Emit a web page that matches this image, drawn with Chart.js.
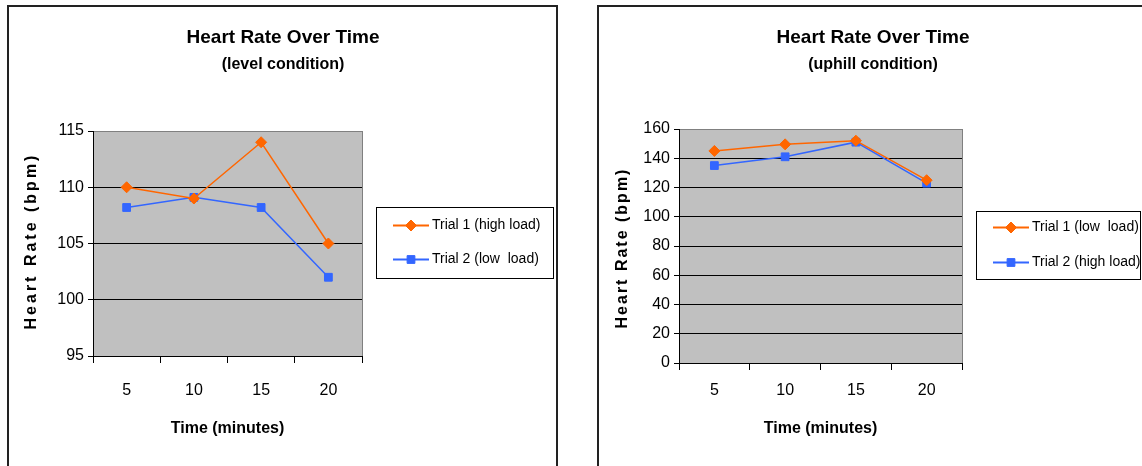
<!DOCTYPE html>
<html>
<head>
<meta charset="utf-8">
<script src="https://cdn.jsdelivr.net/npm/chart.js@4.4.1/dist/chart.umd.min.js"></script>
<style>
  html, body { margin: 0; padding: 0; background: #fff; overflow: hidden; }
  body { width: 1142px; height: 466px; position: relative; }
  .frame { position: absolute; border: 2px solid #222; box-sizing: border-box; }
  canvas { position: absolute; top: 0; }
</style>
</head>
<body>
<div class="frame" style="left:7px;top:5px;width:551px;height:480px"></div>
<div class="frame" style="left:597px;top:5px;width:600px;height:480px"></div>
<canvas id="levelChart" width="560" height="466" style="left:0"></canvas>
<canvas id="uphillChart" width="552" height="466" style="left:590px"></canvas>
<script>
const minutes = ["5", "10", "15", "20"];

// level condition
const levelTrial1 = [110, 109, 114, 105];      // high load
const levelTrial2 = [108.2, 109.1, 108.2, 102]; // low load
const levelTicks = [95, 100, 105, 110, 115];

// uphill condition
const uphillTrial1 = [145, 149.5, 152, 125];   // low load
const uphillTrial2 = [135, 141, 151, 123];     // high load
const uphillTicks = [0, 20, 40, 60, 80, 100, 120, 140, 160];

const FONT = "'Liberation Sans', Arial, sans-serif";
const ORANGE = "#ff6600";
const BLUE = "#3366ff";

Chart.defaults.font.family = FONT;
Chart.defaults.color = "#000";

// grey plot background with grey frame
const plotBg = {
    id: "plotBg",
    beforeDraw(chart) {
        const { ctx, chartArea: a } = chart;
        ctx.save();
        ctx.fillStyle = "#c0c0c0";
        ctx.fillRect(a.left, a.top, a.right - a.left, a.bottom - a.top);
        ctx.strokeStyle = "#808080";
        ctx.lineWidth = 1;
        ctx.strokeRect(Math.round(a.left) + 0.5, Math.round(a.top) + 0.5,
            Math.round(a.right - a.left), Math.round(a.bottom - a.top));
        ctx.restore();
    }
};

// rotated y title with letter spacing
const sideTitle = {
    id: "sideTitle",
    afterDraw(chart, args, opts) {
        const ctx = chart.ctx;
        ctx.save();
        ctx.translate(opts.x, opts.y);
        ctx.rotate(-Math.PI / 2);
        ctx.font = "bold 16px " + FONT;
        ctx.letterSpacing = opts.spacing;
        ctx.fillStyle = "#000";
        ctx.textAlign = "center";
        ctx.textBaseline = "middle";
        ctx.fillText(opts.text, 0, 0);
        ctx.letterSpacing = "0px";
        ctx.restore();
    }
};

// legend in a framed box right of the plot
const boxLegend = {
    id: "boxLegend",
    afterDraw(chart, args, opts) {
        const { ctx, chartArea: a } = chart;
        const x = Math.round(a.right) + opts.gap;
        const w = Math.min(opts.width, chart.width - 2 - x);
        ctx.save();
        ctx.strokeStyle = "#000";
        ctx.lineWidth = 1;
        ctx.strokeRect(x + 0.5, opts.top + 0.5, w, opts.height);
        chart.data.datasets.forEach((ds, i) => {
            const y = opts.top + opts.height / 2 + (i - 0.5) * opts.rowGap;
            ctx.strokeStyle = ds.borderColor;
            ctx.fillStyle = ds.borderColor;
            ctx.lineWidth = 2;
            ctx.beginPath();
            ctx.moveTo(x + 17, y);
            ctx.lineTo(x + 53, y);
            ctx.stroke();
            ctx.lineWidth = 1;
            Chart.helpers.drawPoint(ctx, { pointStyle: ds.pointStyle, radius: ds.pointRadius, borderWidth: 1, rotation: 0 }, x + 35, y);
            ctx.fillStyle = "#000";
            ctx.font = "14px " + FONT;
            ctx.textAlign = "left";
            ctx.textBaseline = "middle";
            ctx.fillText(ds.label, x + 56, y);
        });
        ctx.restore();
    }
};

function series(label, data, color, style) {
    return {
        label,
        data,
        borderColor: color,
        backgroundColor: color,
        borderWidth: 1.5,
        pointStyle: style,
        pointRadius: 5.5,
        pointBorderWidth: 1,
        pointBackgroundColor: color,
        pointBorderColor: color,
        tension: 0
    };
}

function makeChart(id, o) {
    const top = o.ticks[o.ticks.length - 1];
    return new Chart(document.getElementById(id), {
        type: "line",
        data: {
            labels: minutes,
            datasets: o.datasets
        },
        options: {
            responsive: false,
            animation: false,
            events: [],
            layout: { padding: { left: o.padLeft, right: 0, top: 0, bottom: 0 } },
            plugins: {
                legend: { display: false },
                tooltip: { enabled: false },
                title: {
                    display: true,
                    text: "Heart Rate Over Time",
                    color: "#000",
                    font: { size: 19, weight: "bold" },
                    padding: { top: 26.6, bottom: 0 }
                },
                subtitle: {
                    display: true,
                    text: o.subtitle,
                    color: "#000",
                    font: { size: 16, weight: "bold" },
                    padding: { top: 6, bottom: o.subBottom }
                },
                sideTitle: { text: "Heart Rate (bpm)", x: o.titleX, y: o.titleY, spacing: o.spacing },
                boxLegend: o.legend
            },
            scales: {
                x: {
                    type: "category",
                    offset: true,
                    grid: { offset: true, drawOnChartArea: false, color: "#000", tickLength: 7 },
                    border: { color: "#000", width: 1 },
                    ticks: { color: "#000", font: { size: 16 }, padding: o.xPad, maxRotation: 0 },
                    title: {
                        display: true,
                        text: "Time (minutes)",
                        color: "#000",
                        font: { size: 16, weight: "bold" },
                        padding: { top: 0, bottom: 27.4 }
                    },
                    afterFit: (s) => { s.height = o.xHeight; }
                },
                y: {
                    type: "linear",
                    min: o.ticks[0],
                    max: top,
                    afterBuildTicks: (s) => { s.ticks = o.ticks.map((v) => ({ value: v })); },
                    grid: {
                        color: (c) => (c.tick && c.tick.value === top ? "#808080" : "#000"),
                        tickColor: "#000",
                        tickLength: 5
                    },
                    border: { color: "#000", width: 1 },
                    ticks: { color: "#000", font: { size: 16 }, padding: 4 },
                    afterFit: (s) => { s.width = o.yWidth; }
                },
                pad: {
                    type: "linear",
                    axis: "y",
                    position: "right",
                    grid: { display: false },
                    border: { display: false },
                    ticks: { display: false },
                    afterFit: (s) => { s.width = o.rightSpace; }
                }
            }
        },
        plugins: [plotBg, sideTitle, boxLegend]
    });
}

makeChart("levelChart", {
    subtitle: "(level condition)",
    ticks: levelTicks,
    datasets: [
        series("Trial 1 (high load)", levelTrial1, ORANGE, "rectRot"),
        series("Trial 2 (low  load)", levelTrial2, BLUE, "rect")
    ],
    padLeft: 6, yWidth: 87, rightSpace: 198,
    subBottom: 56.4, xHeight: 110, xPad: 18.4,
    titleX: 32, titleY: 241, spacing: "3px",
    legend: { gap: 14, top: 207, width: 177, height: 71, rowGap: 34 }
});

makeChart("uphillChart", {
    subtitle: "(uphill condition)",
    ticks: uphillTicks,
    datasets: [
        series("Trial 1 (low  load)", uphillTrial1, ORANGE, "rectRot"),
        series("Trial 2 (high load)", uphillTrial2, BLUE, "rect")
    ],
    padLeft: 14, yWidth: 75, rightSpace: 180,
    subBottom: 54.4, xHeight: 103, xPad: 11.4,
    titleX: 33, titleY: 248, spacing: "2px",
    legend: { gap: 14, top: 211, width: 164, height: 68, rowGap: 35 }
});
</script>
</body>
</html>
